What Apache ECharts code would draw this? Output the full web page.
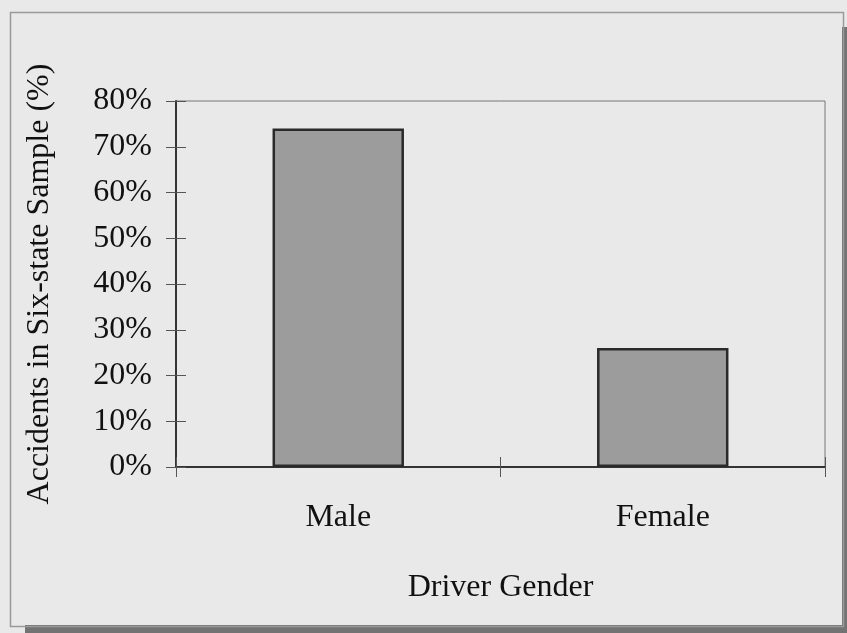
<!DOCTYPE html>
<html>
<head>
<meta charset="utf-8">
<script src="https://cdn.jsdelivr.net/npm/echarts@6/dist/echarts.min.js"></script>
<style>
  html, body { margin: 0; padding: 0; background: #e9e9e9; }
  #chart { width: 847px; height: 633px; }
</style>
</head>
<body>
<div id="chart"></div>
<script>
// data
var categories = ['Male', 'Female'];
var accidentShare = [74, 26];
var yTicks = { min: 0, max: 80, step: 10 };

var font = '"Liberation Serif", "DejaVu Serif", serif';

var chart = echarts.init(document.getElementById('chart'));

var option = {
    backgroundColor: '#e9e9e9',
    animation: false,
    grid: {
        left: 176,
        top: 101,
        right: 22,
        bottom: 166,
        show: true,
        borderColor: '#777',
        borderWidth: 1,
        backgroundColor: 'transparent'
    },
    xAxis: [
        {
            type: 'category',
            data: categories,
            name: 'Driver Gender',
            nameLocation: 'middle',
            nameGap: 105,
            nameTextStyle: { fontFamily: font, fontSize: 32, color: '#111' },
            axisLine: { lineStyle: { color: '#333', width: 2 } },
            axisTick: { show: true, interval: 0, length: 10, lineStyle: { color: '#555', width: 1 } },
            axisLabel: { fontFamily: font, fontSize: 32, color: '#111', margin: 35 }
        },
        {
            type: 'category',
            data: categories,
            position: 'bottom',
            axisLine: { show: false },
            axisTick: { show: true, interval: 0, inside: true, length: 10, lineStyle: { color: '#555', width: 1 } },
            axisLabel: { show: false }
        }
    ],
    yAxis: [
        {
            type: 'value',
            min: yTicks.min,
            max: yTicks.max,
            interval: yTicks.step,
            name: 'Accidents in Six-state Sample (%)',
            nameLocation: 'middle',
            nameGap: 120,
            nameTextStyle: { fontFamily: font, fontSize: 32, color: '#111' },
            axisLine: { show: true, lineStyle: { color: '#333', width: 2 } },
            axisTick: { show: true, length: 10, lineStyle: { color: '#555', width: 1 } },
            axisLabel: { fontFamily: font, fontSize: 32, color: '#111', margin: 24, formatter: '{value}%', padding: [4, 0, 0, 0] },
            splitLine: { show: false }
        },
        {
            type: 'value',
            min: yTicks.min,
            max: yTicks.max,
            interval: yTicks.step,
            position: 'left',
            axisLine: { show: false },
            axisTick: { show: true, inside: true, length: 10, lineStyle: { color: '#555', width: 1 } },
            axisLabel: { show: false },
            splitLine: { show: false }
        }
    ],
    series: [
        {
            type: 'bar',
            data: accidentShare,
            xAxisIndex: 0,
            yAxisIndex: 0,
            barWidth: '40.5%',
            itemStyle: { color: '#9c9c9c', borderColor: '#2a2a2a', borderWidth: 2.5 }
        }
    ],
    graphic: [
        // drop shadow of the frame
        { type: 'rect', left: 25, top: 625, shape: { width: 822, height: 8 }, style: { fill: '#737373' }, z: -1 },
        { type: 'rect', left: 842, top: 27, shape: { width: 5, height: 606 }, style: { fill: '#737373' }, z: -1 },
        // frame
        { type: 'rect', left: 8, top: 10, shape: { width: 833, height: 614 }, style: { fill: 'none', stroke: '#9a9a9a', lineWidth: 1.5 }, z: -1 }
    ]
};

chart.setOption(option);
</script>
</body>
</html>
